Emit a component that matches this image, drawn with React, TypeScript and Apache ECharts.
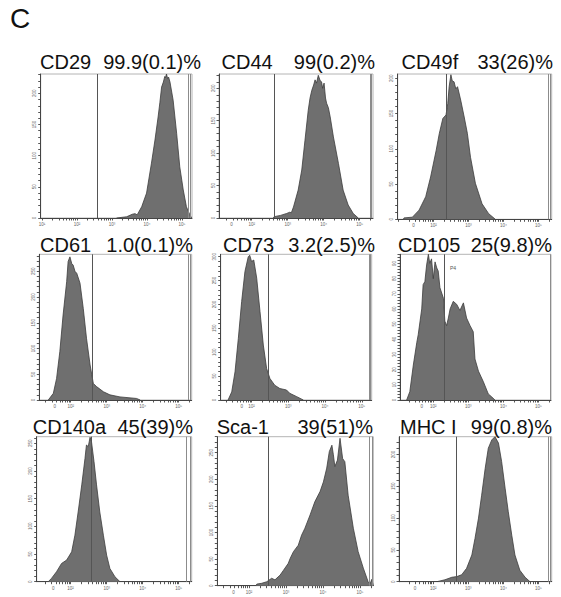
import React, { useEffect, useRef } from "react";
import * as echarts from "echarts";

// ---------- data ----------
const MARKERS = ["CD29", "CD44", "CD49f", "CD61", "CD73", "CD105", "CD140a", "Sca-1", "MHC I"];
const PERCENTS = ["99.9(0.1)%", "99(0.2)%", "33(26)%", "1.0(0.1)%", "3.2(2.5)%", "25(9.8)%", "45(39)%", "39(51)%", "99(0.8)%"];
// gate positions and axis ranges (log decades of fluorescence)
const GATES = [2.57, 2.62, 2.36, 2.61, 2.45, 2.31, 2.58, 2.52, 2.65];
const X_MIN = [0.96, 1.09, 0.98, 1.13, 1.16, 1.05, 1.06, 1.14, 1.02];
const X_MAX = [5.29, 5.37, 5.38, 5.36, 5.27, 5.36, 5.36, 5.36, 5.38];
const RIGHT_LINES = [[5.17, 5.23], [5.29, 5.33], [5.29, 5.33], [5.27, 5.31], [5.2, 5.24], [5.33], [5.22, 5.31], [5.26, 5.32], [5.28, 5.33]];
const ZERO_LABEL_POS = [1.0, 1.44, 1.43, 1.56, 1.73, 1.67, 1.52, 1.58, 1.48];
const ZERO_LABEL_TEXT = ["10¹", "0", "0", "0", "0", "0", "0", "0", "0"];
const DECADES = [2, 3, 4, 5];
const DECADE_TEXT = ["10²", "10³", "10⁴", "10⁵"];
const Y_MAX = [231, 222, 206, 283, 305, 96, 262, 280, 228];
const Y_STEP = [50, 50, 50, 50, 50, 10, 50, 50, 50];

const CD29 = [[3.13, 0], [3.42, 2], [3.58, 6], [3.66, 7], [3.72, 5], [3.85, 18], [3.99, 40], [4.13, 88], [4.23, 125], [4.32, 162], [4.37, 185], [4.42, 210], [4.47, 218], [4.51, 227], [4.53, 225], [4.56, 231], [4.59, 224], [4.62, 226], [4.66, 218], [4.75, 189], [4.85, 136], [4.94, 82], [5.04, 45], [5.13, 18], [5.23, 5], [5.28, 0]];
const CD44 = [[2.6, 0], [2.62, 2], [2.8, 4], [2.97, 7], [3.06, 9], [3.1, 8], [3.16, 17], [3.29, 43], [3.39, 74], [3.48, 120], [3.57, 166], [3.62, 185], [3.67, 197], [3.72, 205], [3.76, 213], [3.8, 208], [3.85, 220], [3.9, 212], [3.94, 210], [3.97, 200], [4.01, 208], [4.05, 185], [4.08, 177], [4.13, 170], [4.18, 156], [4.27, 125], [4.41, 84], [4.54, 43], [4.68, 20], [4.82, 7], [4.96, 0]];
const CD49F = [[1.14, 0], [1.16, 2], [1.4, 3], [1.59, 13], [1.78, 32], [1.92, 60], [2.08, 98], [2.17, 122], [2.27, 143], [2.36, 148], [2.41, 164], [2.45, 188], [2.5, 205], [2.54, 196], [2.59, 195], [2.64, 185], [2.69, 188], [2.78, 169], [2.88, 145], [2.97, 122], [3.06, 88], [3.2, 51], [3.39, 22], [3.58, 8], [3.77, 0]];
const CD61 = [[1.38, 0], [1.52, 13], [1.61, 42], [1.7, 94], [1.79, 165], [1.89, 230], [1.93, 269], [1.98, 278], [2.03, 265], [2.07, 262], [2.12, 250], [2.17, 246], [2.26, 227], [2.35, 178], [2.44, 120], [2.54, 68], [2.63, 32], [2.72, 26], [2.91, 16], [3.09, 10], [3.37, 6], [3.83, 3], [3.93, 0]];
const CD73 = [[1.36, 0], [1.46, 17], [1.55, 59], [1.64, 129], [1.73, 206], [1.82, 269], [1.91, 300], [1.95, 303], [2.0, 290], [2.06, 293], [2.14, 255], [2.23, 185], [2.32, 115], [2.41, 66], [2.5, 45], [2.63, 31], [2.77, 24], [2.95, 21], [3.04, 14], [3.23, 7], [3.41, 0]];
const CD105 = [[1.24, 0], [1.33, 5.5], [1.43, 23], [1.53, 38], [1.57, 43], [1.67, 60], [1.71, 76], [1.76, 78], [1.81, 89], [1.86, 96], [1.9, 90], [1.95, 93], [2.0, 80], [2.05, 91], [2.1, 87], [2.14, 85], [2.19, 74], [2.29, 67], [2.33, 52], [2.38, 49], [2.43, 54], [2.48, 60], [2.57, 65], [2.67, 63], [2.76, 59], [2.86, 64], [2.95, 54], [3.05, 49], [3.14, 45], [3.19, 27], [3.29, 19], [3.43, 12], [3.57, 4], [3.67, 2], [3.76, 0]];
const CD140A = [[1.38, 0], [1.47, 6], [1.61, 18], [1.75, 33], [1.89, 39], [2.03, 54], [2.12, 84], [2.21, 126], [2.31, 175], [2.4, 223], [2.44, 247], [2.49, 244], [2.54, 261], [2.58, 253], [2.65, 217], [2.72, 175], [2.81, 126], [2.91, 84], [3.0, 48], [3.09, 24], [3.23, 9], [3.37, 0]];
const SCA1 = [[2.18, 0], [2.21, 3], [2.34, 4.5], [2.48, 7.5], [2.61, 14], [2.7, 11], [2.84, 20], [2.93, 29], [3.06, 42], [3.11, 51], [3.2, 64], [3.33, 76], [3.42, 95], [3.51, 108], [3.65, 133], [3.78, 158], [3.92, 177], [4.01, 195], [4.1, 221], [4.17, 252], [4.24, 264], [4.28, 246], [4.32, 224], [4.39, 236], [4.46, 277], [4.53, 239], [4.59, 233], [4.68, 170], [4.82, 108], [4.95, 64], [5.09, 33], [5.22, 7.5], [5.27, 3], [5.32, 12], [5.36, 0]];
const MHC1 = [[2.1, 0], [2.33, 3], [2.53, 7], [2.67, 8], [2.81, 11], [2.95, 21], [3.1, 42], [3.19, 68], [3.29, 100], [3.38, 136], [3.48, 178], [3.57, 210], [3.67, 223], [3.76, 228], [3.86, 218], [3.95, 189], [4.05, 147], [4.14, 110], [4.24, 73], [4.33, 42], [4.47, 18], [4.62, 7], [4.76, 0]];
const HISTS = [CD29, CD44, CD49F, CD61, CD73, CD105, CD140A, SCA1, MHC1];

// ---------- layout (pixels) ----------
const BOXES = [
  [40.7, 74, 151.3, 144], [219, 74, 154, 144], [397.7, 74, 154, 145.3],
  [39.3, 254.3, 152.4, 145.7], [220.7, 254.3, 151, 145.7], [400, 254.3, 151, 145.7],
  [36.7, 436.7, 155, 145], [217.3, 436.7, 156, 149], [399, 436.7, 152.7, 145],
];
const TITLE_POS = [
  [40, 201, 61.5], [221.5, 375, 61.5], [401.5, 553, 61.5],
  [40, 193, 245], [223, 375, 245], [398, 552, 245],
  [32.7, 193, 427], [216.7, 373, 427], [400, 552, 427],
];
const FONT = '"Liberation Sans", Arial, Helvetica, sans-serif';

function buildOption() {
  const grids: any[] = [];
  const xAxes: any[] = [];
  const yAxes: any[] = [];
  const series: any[] = [];
  const graphics: any[] = [];

  for (let i = 0; i < 9; i++) {
    const [l, t, w, h] = BOXES[i];
    grids.push({ left: l, top: t, width: w, height: h, show: true, borderColor: "#b4b4b4", borderWidth: 1, backgroundColor: "#fff" });

    const xmin = X_MIN[i], xmax = X_MAX[i];
    const ticks: number[] = [];
    for (let n = 0; n <= 5; n++) {
      for (let k = 1; k <= 9; k++) {
        const v = n + Math.log10(k);
        if (v >= xmin && v <= xmax) ticks.push(+v.toFixed(4));
      }
    }
    const labelVals = [ZERO_LABEL_POS[i], ...DECADES];
    const labelText = new Map<number, string>();
    labelText.set(ZERO_LABEL_POS[i], ZERO_LABEL_TEXT[i]);
    DECADES.forEach((d, j) => labelText.set(d, DECADE_TEXT[j]));

    xAxes.push({
      type: "value", gridIndex: i, min: xmin, max: xmax,
      axisLine: { show: true, onZero: false, lineStyle: { color: "#444", width: 1 } },
      axisTick: { show: true, customValues: ticks, length: 2.5, lineStyle: { color: "#444", width: 0.9 } },
      axisLabel: {
        show: true, customValues: labelVals, fontSize: 4.5, color: "#666", margin: 4, fontFamily: FONT,
        formatter: (v: number) => labelText.get(v) ?? "",
      },
      splitLine: { show: false },
    });

    const ymax = Y_MAX[i], step = Y_STEP[i];
    const yLabelVals: number[] = [];
    for (let v = 0; v <= ymax; v += step) yLabelVals.push(v);
    const yTickVals: number[] = [];
    for (let v = 0; v <= ymax; v += step / 5) yTickVals.push(+v.toFixed(3));
    yAxes.push({
      type: "value", gridIndex: i, min: 0, max: ymax,
      axisLine: { show: true, lineStyle: { color: "#444", width: 1 } },
      axisTick: { show: true, customValues: yTickVals, length: 2.5, lineStyle: { color: "#444", width: 0.9 } },
      axisLabel: { show: true, customValues: yLabelVals, fontSize: 4.5, color: "#666", rotate: 90, margin: 3.5, fontFamily: FONT },
      splitLine: { show: false },
    });

    series.push({
      type: "line", xAxisIndex: i, yAxisIndex: i, data: HISTS[i],
      symbol: "none", showSymbol: false, silent: true,
      lineStyle: { color: "#3c3c3c", width: 0.8 },
      areaStyle: { color: "#6f6f6f", opacity: 1 },
      markLine: {
        symbol: "none", silent: true, label: { show: false },
        data: [
          { xAxis: GATES[i], lineStyle: { color: "#555", width: 1, type: "solid" } },
          ...RIGHT_LINES[i].map((x) => ({ xAxis: x, lineStyle: { color: "#8c8c8c", width: 1, type: "solid" } })),
        ],
      },
    });

    const [nx, px, cy] = TITLE_POS[i];
    graphics.push({ type: "text", x: nx, y: cy, style: { text: MARKERS[i], fontSize: 20, fontFamily: FONT, fill: "#111", align: "left", verticalAlign: "middle" } });
    graphics.push({ type: "text", x: px, y: cy, style: { text: PERCENTS[i], fontSize: 20, fontFamily: FONT, fill: "#111", align: "right", verticalAlign: "middle" } });
  }

  graphics.push({ type: "text", x: 10, y: 18.5, style: { text: "C", fontSize: 28, fontFamily: FONT, fill: "#111", align: "left", verticalAlign: "middle" } });
  graphics.push({ type: "text", x: 450, y: 268, style: { text: "P4", fontSize: 5, fontFamily: FONT, fill: "#555", align: "left", verticalAlign: "middle" } });

  return {
    animation: false,
    backgroundColor: "#fff",
    grid: grids,
    xAxis: xAxes,
    yAxis: yAxes,
    series,
    graphic: graphics,
  };
}

export default function App() {
  const ref = useRef<HTMLDivElement>(null);
  useEffect(() => {
    const chart = echarts.init(ref.current!, null, { renderer: "svg" });
    chart.setOption(buildOption());
    return () => chart.dispose();
  }, []);
  return <div ref={ref} style={{ position: "absolute", left: 0, top: 0, width: 561, height: 597, background: "#fff" }} />;
}
